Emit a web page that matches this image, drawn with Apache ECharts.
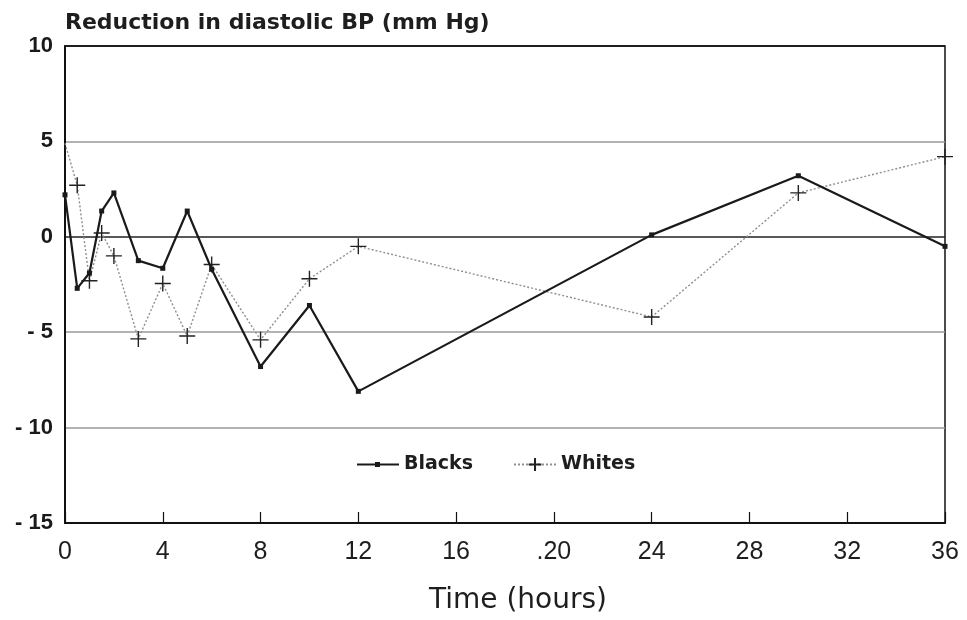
<!DOCTYPE html>
<html>
<head>
<meta charset="utf-8">
<script src="https://cdn.jsdelivr.net/npm/echarts@6/dist/echarts.min.js"></script>
<style>
  html, body { margin: 0; padding: 0; background: #fff; }
  #chart { width: 967px; height: 620px; }
</style>
</head>
<body>
<div id="chart"></div>
<script>
// Hours after dosing
const blackHours = [0, 0.5, 1, 1.5, 2, 3, 4, 5, 6, 8, 10, 12, 24, 30, 36];
const blackValues = [2.2, -2.7, -1.9, 1.35, 2.3, -1.25, -1.65, 1.35, -1.7, -6.8, -3.6, -8.1, 0.1, 3.2, -0.5];

const whiteHours = [0, 0.5, 1, 1.5, 2, 3, 4, 5, 6, 8, 10, 12, 24, 30, 36];
const whiteValues = [4.9, 2.7, -2.3, 0.2, -1.0, -5.35, -2.45, -5.2, -1.45, -5.4, -2.2, -0.5, -4.2, 2.3, 4.2];

const xTickLabels = { 0: '0', 4: '4', 8: '8', 12: '12', 16: '16', 20: '.20', 24: '24', 28: '28', 32: '32', 36: '36' };
const yTickLabels = { 10: '10', 5: '5', 0: '0', '-5': '- 5', '-10': '- 10', '-15': '- 15' };

const SANS = 'Liberation Sans, Arial, sans-serif';
const WIDE = 'DejaVu Sans, Verdana, sans-serif';

const blackData = blackHours.map((x, i) => [x, blackValues[i]]);
// the first White reading sits on the axis, drawn without its cross
const whiteData = whiteHours.map((x, i) =>
  i === 0 ? { value: [x, whiteValues[i]], symbol: 'none' } : [x, whiteValues[i]]);

const chart = echarts.init(document.getElementById('chart'), null, { renderer: 'canvas' });

chart.setOption({
  backgroundColor: '#fff',
  animation: false,
  title: {
    text: 'Reduction in diastolic BP (mm Hg)',
    left: 60,
    top: 7,
    textStyle: { fontFamily: WIDE, fontWeight: 'bold', fontSize: 22, color: '#1e1e1e' }
  },
  legend: {
    left: 352,
    top: 450,
    itemWidth: 42,
    itemHeight: 16,
    itemGap: 40,
    textStyle: { fontFamily: WIDE, fontWeight: 'bold', fontSize: 19, color: '#1e1e1e' },
    data: [
      {
        name: 'Blacks',
        icon: 'path://M0,7L42,7L42,9L0,9Z M18,5.5L23,5.5L23,10.5L18,10.5Z',
        itemStyle: { color: '#1a1a1a' }
      },
      { name: 'Whites' }
    ]
  },
  grid: {
    left: 65, right: 22, top: 46, bottom: 91,
    show: true, borderColor: '#111', borderWidth: 1.5, containLabel: false
  },
  xAxis: {
    type: 'value',
    min: 0, max: 36, interval: 4,
    name: 'Time (hours)',
    nameLocation: 'middle',
    nameGap: 64,
    nameTextStyle: { fontFamily: WIDE, fontSize: 28, color: '#1e1e1e', padding: [0, 0, 0, 26] },
    axisLine: { onZero: false, lineStyle: { color: '#111', width: 2 } },
    axisTick: { inside: true, length: 11, lineStyle: { color: '#111', width: 1.2 } },
    axisLabel: {
      margin: 17,
      fontFamily: SANS, fontSize: 25, color: '#1e1e1e',
      formatter: v => xTickLabels[v] ?? String(v)
    },
    splitLine: { show: false }
  },
  yAxis: {
    type: 'value',
    min: -15, max: 10, interval: 5,
    axisLine: { show: true, onZero: false, lineStyle: { color: '#111', width: 2 } },
    axisTick: { show: false },
    axisLabel: {
      margin: 12,
      fontFamily: SANS, fontWeight: 'bold', fontSize: 22, color: '#1a1a1a',
      formatter: v => yTickLabels[v] ?? String(v)
    },
    splitLine: {
      show: true,
      lineStyle: { color: ['#111', '#9a9a9a', '#9a9a9a', '#222', '#9a9a9a', '#111'], width: 1.6 }
    }
  },
  series: [
    {
      name: 'Blacks',
      type: 'line',
      data: blackData,
      symbol: 'rect',
      symbolSize: 5,
      lineStyle: { color: '#1a1a1a', width: 2.2 },
      itemStyle: { color: '#1a1a1a' },
      z: 3
    },
    {
      name: 'Whites',
      type: 'line',
      data: whiteData,
      symbol: 'path://M0,-10L0,10M-10,0L10,0',
      symbolSize: 16,
      lineStyle: { color: '#8f8f8f', width: 1.4, type: [2, 2] },
      itemStyle: { color: 'none', borderColor: '#222', borderWidth: 1.4 },
      z: 2
    }
  ]
});
</script>
</body>
</html>
